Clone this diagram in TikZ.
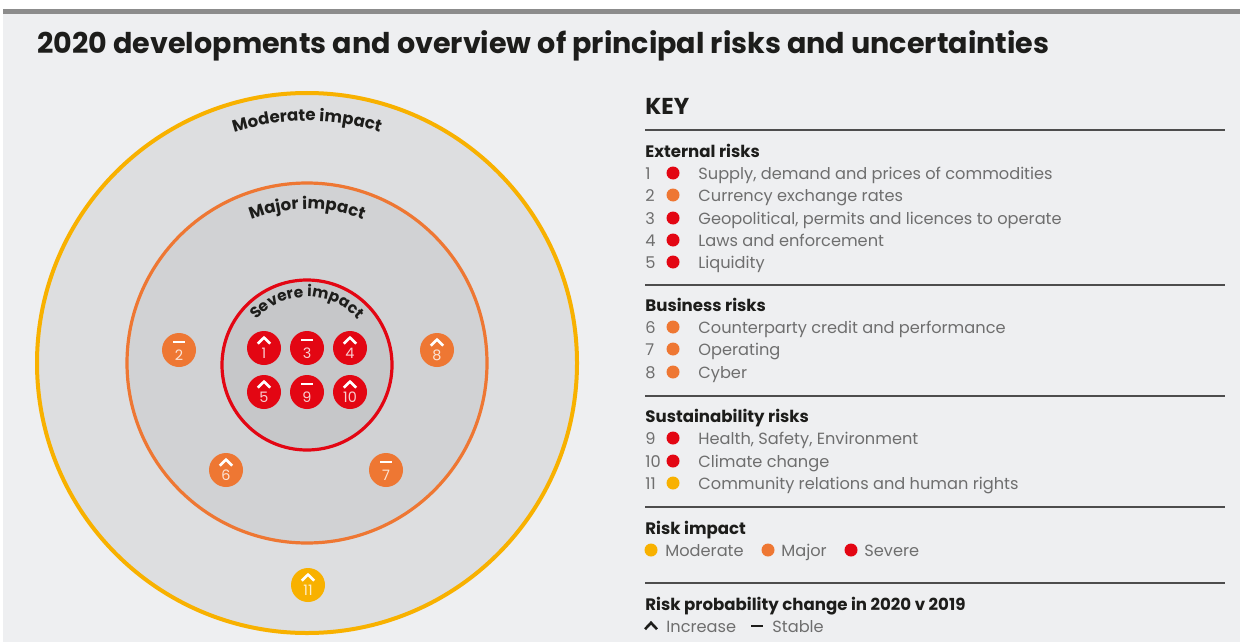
\documentclass[tikz,border=0pt]{standalone}
\usepackage{fontspec}
\setmainfont{Poppins}
\usetikzlibrary{decorations.text, positioning}
\definecolor{sevred}{HTML}{E30613}
\definecolor{majorange}{HTML}{EE7733}
\definecolor{modyellow}{HTML}{F8B100}
\definecolor{pagebg}{HTML}{EEEFF1}
\definecolor{ringA}{HTML}{DDDEE0}
\definecolor{ringB}{HTML}{D1D2D4}
\definecolor{ringC}{HTML}{C6C7C9}
\definecolor{inkdark}{HTML}{1D1D1B}
\definecolor{inkgrey}{HTML}{6E6E6E}
\definecolor{rulegrey}{HTML}{4D4D4D}
\definecolor{bargrey}{HTML}{8C8C8C}
\newcommand{\keyfont}{\fontsize{8.1}{9}\selectfont}
\newcommand{\headfont}{\bfseries\fontsize{8.3}{9}\selectfont}
\newcommand{\ringfont}{\bfseries\fontsize{8.3}{9}\selectfont}
\newcommand{\coreringfont}{\bfseries\fontsize{7.7}{9}\selectfont}
\tikzset{
  bub/.style={circle, fill=#1, minimum size=17pt, inner sep=0pt},
  bubnum/.style={text=#1!20!white, font=\fontsize{7.2}{7}\selectfont, inner sep=0pt},
  trendmark/.style={white, line width=1.3pt, line join=miter},
  keytxt/.style={anchor=west, text=inkgrey, font=\keyfont, inner sep=0pt, text height=1.5ex, text depth=.25ex},
  keyhead/.style={anchor=west, text=inkdark, font=\headfont, inner sep=0pt, text height=1.5ex, text depth=.25ex},
  keydot/.style={circle, fill=#1, minimum size=6.5pt, inner sep=0pt},
  keyrule/.style={draw=rulegrey, line width=1pt},
  ringlabel/.style={decorate, decoration={text along path, text align=center, text color=inkdark, text={|\ringfont|#1}}},
  corelabel/.style={decorate, decoration={text along path, text align=center, text color=inkdark, text={|\coreringfont|#1}}}
}
% bubble: name, x, y, colour, number, trend
\newcommand{\riskbub}[6]{%
  \node[bub=#4] (#1) at (#2,#3) {};
  \node[bubnum=#4] (#1num) at ([yshift=-2.5pt]#1.center) {#5};
  #6{#1}}
\newcommand{\trendup}[1]{\draw[trendmark] ([shift={(-3.1pt,2.2pt)}]#1.center) -- ([shift={(0pt,5.2pt)}]#1.center) -- ([shift={(3.1pt,2.2pt)}]#1.center);}
\newcommand{\trendflat}[1]{\draw[trendmark, line width=1.1pt] ([shift={(-3pt,4.2pt)}]#1.center) -- ([shift={(3pt,4.2pt)}]#1.center);}
% key line: name, y, number, colour, text
\newcommand{\keyitem}[5]{%
  \node[keytxt] (#1num) at (645,#2) {#3};
  \node[keydot=#4] (#1dot) at (673,#2) {};
  \node[keytxt] (#1txt) at (698,#2) {#5};}

\begin{document}
\begin{tikzpicture}[x=0.5pt,y=-0.5pt]
\useasboundingbox (0,0) rectangle (1240,642);
\fill[white] (0,0) rectangle (1240,642);
\fill[pagebg] (3,14) rectangle (1240,642);
\fill[bargrey] (3,9) rectangle (1240,14);

\node[anchor=west, text=inkdark, font=\bfseries\fontsize{14.3}{16}\selectfont, inner sep=0pt] (title) at (37,46) {2020 developments and overview of principal risks and uncertainties};

% impact rings
\draw[modyellow, fill=ringA, line width=2pt] (307,363) circle[radius=270];
\draw[majorange, fill=ringB, line width=1.6pt] (307,363) circle[radius=180];
\draw[sevred, fill=ringC, line width=1.6pt] (307,365) circle[radius=85];
\path[ringlabel=Moderate impact] (307,363) ++(225:242) arc[start angle=225, end angle=315, radius=242];
\path[ringlabel=Major impact] (307,363) ++(210:154) arc[start angle=210, end angle=330, radius=154];
\path[corelabel=Severe impact] (307,365) ++(180:68) arc[start angle=180, end angle=360, radius=68];

% risks
\riskbub{r1}{264}{348}{sevred}{1}{\trendup}
\riskbub{r3}{307}{348}{sevred}{3}{\trendflat}
\riskbub{r4}{350}{348}{sevred}{4}{\trendup}
\riskbub{r5}{264}{392}{sevred}{5}{\trendup}
\riskbub{r9}{307}{392}{sevred}{9}{\trendflat}
\riskbub{r10}{350}{392}{sevred}{10}{\trendup}
\riskbub{r2}{179}{350}{majorange}{2}{\trendflat}
\riskbub{r8}{437}{350}{majorange}{8}{\trendup}
\riskbub{r6}{226}{470}{majorange}{6}{\trendup}
\riskbub{r7}{386}{470}{majorange}{7}{\trendflat}
\riskbub{r11}{308}{585}{modyellow}{11}{\trendup}

% key
\node[anchor=west, text=inkdark, font=\bfseries\fontsize{11.5}{13}\selectfont, inner sep=0pt] (key) at (645,106) {KEY};
\draw[keyrule] (645,130) -- (1225,130);
\node[keyhead] (exthead) at (645,151) {External risks};
\keyitem{k1}{173}{1}{sevred}{Supply, demand and prices of commodities}
\keyitem{k2}{195}{2}{majorange}{Currency exchange rates}
\keyitem{k3}{218}{3}{sevred}{Geopolitical, permits and licences to operate}
\keyitem{k4}{240}{4}{sevred}{Laws and enforcement}
\keyitem{k5}{262}{5}{sevred}{Liquidity}
\draw[keyrule] (645,285) -- (1225,285);
\node[keyhead] (bushead) at (645,305) {Business risks};
\keyitem{k6}{327}{6}{majorange}{Counterparty credit and performance}
\keyitem{k7}{349}{7}{majorange}{Operating}
\keyitem{k8}{372}{8}{majorange}{Cyber}
\draw[keyrule] (645,396) -- (1225,396);
\node[keyhead] (sushead) at (645,416) {Sustainability risks};
\keyitem{k9}{438}{9}{sevred}{Health, Safety, Environment}
\keyitem{k10}{461}{10}{sevred}{Climate change}
\keyitem{k11}{483}{11}{modyellow}{Community relations and human rights}
\draw[keyrule] (645,507) -- (1225,507);
\node[keyhead] (imphead) at (645,528) {Risk impact};
\node[keydot=modyellow] (moddot) at (651,550) {};
\node[keytxt] (modtxt) at (665,550) {Moderate};
\node[keydot=majorange] (majdot) at (768,550) {};
\node[keytxt] (majtxt) at (781,550) {Major};
\node[keydot=sevred] (sevdot) at (851,550) {};
\node[keytxt] (sevtxt) at (864,550) {Severe};
\draw[keyrule] (645,583) -- (1225,583);
\node[keyhead] (probhead) at (645,604) {Risk probability change in 2020 v 2019};
\coordinate (incmark) at (651,626);
\draw[inkdark, line width=1.3pt, line join=miter] ([shift={(-3pt,-1.6pt)}]incmark) -- ([shift={(0pt,1.6pt)}]incmark) -- ([shift={(3pt,-1.6pt)}]incmark);
\node[keytxt] (inctxt) at (666,626) {Increase};
\coordinate (stabmark) at (757,626);
\draw[inkdark, line width=1.1pt] ([xshift=-3pt]stabmark) -- ([xshift=3pt]stabmark);
\node[keytxt] (stabtxt) at (772,626) {Stable};
\end{tikzpicture}
\end{document}
